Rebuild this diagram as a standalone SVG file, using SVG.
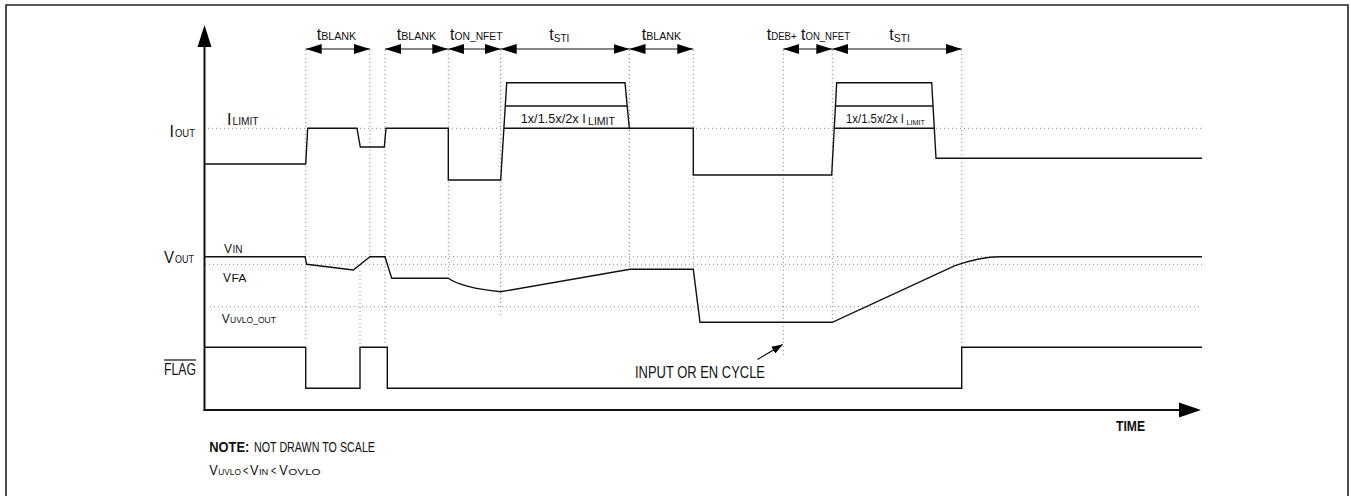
<svg xmlns="http://www.w3.org/2000/svg" width="1351" height="496" viewBox="0 0 1351 496">
<style>
text{font-family:"Liberation Sans",Arial,sans-serif;fill:#111}
.b{font-size:16px}
.s{font-size:11.5px}
.m{font-size:13px}
.xs{font-size:9px}
.dot{stroke:#888;stroke-width:1;stroke-dasharray:1 3;fill:none}
.wave{stroke:#111;stroke-width:1.4;fill:none;stroke-linejoin:miter}
.dim{stroke:#111;stroke-width:1.2;fill:none;marker-start:url(#ah);marker-end:url(#ah)}
</style>
<defs>
<marker id="ah" markerUnits="userSpaceOnUse" viewBox="0 0 16 10" refX="16" refY="5" markerWidth="16" markerHeight="10" orient="auto-start-reverse">
<path d="M0,0 L16,5 L0,10 Z" fill="#000"/>
</marker>
<marker id="sa" markerUnits="userSpaceOnUse" viewBox="0 0 11 8" refX="11" refY="4" markerWidth="11" markerHeight="8" orient="auto">
<path d="M0,0 L11,4 L0,8 Z" fill="#000"/>
</marker>
</defs>
<g id="frame">
<path d="M6,497 V5 H1348 V497" fill="none" stroke="#222" stroke-width="1.6"/>
</g>
<g id="grid">
<path class="dot" d="M208,128.3 H1202 M205,256.7 H1202 M205,264.3 H1202 M210,306.7 H1202"/>
<path class="dot" d="M305.7,50 V342 M360,271 V346 M370,50 V256 M385,50 V346 M448.3,50 V278 M500.7,50 V318 M629.5,50 V269 M693.3,50 V269 M783.3,50 V358 M832.3,50 V322 M961.7,50 V347"/>
</g>
<g id="axes">
<path d="M204.5,411 V46" stroke="#111" stroke-width="2" fill="none"/>
<path d="M197.5,47 L204.5,25 L211.5,47 Z" fill="#000"/>
<path d="M203.5,410 H1180" stroke="#111" stroke-width="2" fill="none"/>
<path d="M1179,402.5 L1201,410 L1179,417.5 Z" fill="#000"/>
</g>
<g id="connectors">
<path class="dim" d="M305.7,49 H370"/>
<path class="dim" d="M385,49 H448.3"/>
<path class="dim" d="M448.3,49 H500.7"/>
<path class="dim" d="M500.7,49 H629.5"/>
<path class="dim" d="M629.5,49 H693.3"/>
<path class="dim" d="M783.3,49 H832.3"/>
<path class="dim" d="M832.3,49 H961.7"/>
<path d="M757.5,359.5 L782.7,344.5" stroke="#111" stroke-width="1.2" fill="none" marker-end="url(#sa)"/>
</g>
<g id="iout-wave">
<path class="wave" d="M204.5,164 H305.7 L307.7,128.3 H357 L360.3,147 H384.3 L386,128.3 H448.3 V180 H500.7 L506.7,82.7 H625 L629.3,128.3 H693.3 V175 H831.7 L836.7,82.7 H931.7 L936,158.3 H1202"/>
<path class="wave" d="M505.3,106 H627.2 M503.9,128.3 H629.3 M835.4,106 H933 M834.2,128.3 H934.3"/>
</g>
<g id="vout-wave">
<path class="wave" d="M204.5,256.7 H305 L306.7,264.3 L353.3,270 L370,256.7 H385 L391.7,278.3 H448.3 Q462,288 500.7,291.7 L630,269.3 H693.3 L700,322.3 H832.3 L955,265.7 Q980,256.7 1000,256.7 H1202"/>
</g>
<g id="flag-wave">
<path class="wave" d="M204.5,347.3 H305.7 V388.3 H360 V347.3 H387.3 V388.3 H961.7 V347.3 H1202"/>
</g>
<g id="timing-labels">
<text class="b" x="316.7" y="40">t</text><text class="s" x="321.2" y="40" textLength="35" lengthAdjust="spacingAndGlyphs">BLANK</text>
<text class="b" x="396.7" y="40">t</text><text class="s" x="401.2" y="40" textLength="35" lengthAdjust="spacingAndGlyphs">BLANK</text>
<text class="b" x="450" y="40">t</text><text class="s" x="454.5" y="40" textLength="48" lengthAdjust="spacingAndGlyphs">ON_NFET</text>
<text class="b" x="549.3" y="40">t</text><text class="s" x="553.8" y="42" textLength="15.5" lengthAdjust="spacingAndGlyphs">STI</text>
<text class="b" x="641.7" y="40">t</text><text class="s" x="646.2" y="40" textLength="35" lengthAdjust="spacingAndGlyphs">BLANK</text>
<text class="b" x="766.7" y="40">t</text><text class="s" x="771.2" y="40" textLength="25.5" lengthAdjust="spacingAndGlyphs">DEB+</text>
<text class="b" x="801" y="40">t</text><text class="s" x="805.5" y="40" textLength="44.5" lengthAdjust="spacingAndGlyphs">ON_NFET</text>
<text class="b" x="889.3" y="40">t</text><text class="s" x="893.8" y="42" textLength="16" lengthAdjust="spacingAndGlyphs">STI</text>
</g>
<g id="signal-labels">
<text class="b" x="169.5" y="137">I</text><text class="s" x="175" y="137" textLength="20" lengthAdjust="spacingAndGlyphs">OUT</text>
<text class="b" x="227" y="125">I</text><text class="s" x="232.5" y="125" textLength="26" lengthAdjust="spacingAndGlyphs">LIMIT</text>
<text x="520.7" y="123" textLength="65" lengthAdjust="spacingAndGlyphs" style="font-size:13px">1x/1.5x/2x I</text>
<text class="s" x="588" y="125" textLength="27" lengthAdjust="spacingAndGlyphs">LIMIT</text>
<text x="846" y="123.3" textLength="58" lengthAdjust="spacingAndGlyphs" style="font-size:12px">1x/1.5x/2x I</text>
<text x="906.5" y="125" textLength="18.5" lengthAdjust="spacingAndGlyphs" style="font-size:8px">LIMIT</text>
<text class="b" x="164" y="263" textLength="10" lengthAdjust="spacingAndGlyphs">V</text><text class="s" x="175" y="263" textLength="19" lengthAdjust="spacingAndGlyphs">OUT</text>
<text class="m" x="224" y="253.3" textLength="8" lengthAdjust="spacingAndGlyphs">V</text><text style="font-size:10px" x="232.5" y="253.3" textLength="10" lengthAdjust="spacingAndGlyphs">IN</text>
<text class="m" x="223" y="281.7" textLength="8" lengthAdjust="spacingAndGlyphs">V</text><text class="s" x="231.5" y="281.7" textLength="15" lengthAdjust="spacingAndGlyphs">FA</text>
<text class="m" x="221.7" y="323.3" textLength="8" lengthAdjust="spacingAndGlyphs">V</text><text class="xs" x="230" y="323.3" textLength="46" lengthAdjust="spacingAndGlyphs">UVLO_OUT</text>
<text x="164" y="375" textLength="32" lengthAdjust="spacingAndGlyphs" style="font-size:16px">FLAG</text>
<path d="M164,360 H196" stroke="#111" stroke-width="1.2"/>
<text x="635" y="378.3" textLength="130" lengthAdjust="spacingAndGlyphs" style="font-size:16px">INPUT OR EN CYCLE</text>
<text x="1116" y="430.7" textLength="29" lengthAdjust="spacingAndGlyphs" style="font-size:14px;font-weight:bold">TIME</text>
</g>
<g id="notes">
<text x="209.3" y="451.7" textLength="40" lengthAdjust="spacingAndGlyphs" style="font-size:15px;font-weight:bold">NOTE:</text>
<text x="254" y="451.7" textLength="121" lengthAdjust="spacingAndGlyphs" style="font-size:15px">NOT DRAWN TO SCALE</text>
<text x="209.3" y="475" textLength="8.5" lengthAdjust="spacingAndGlyphs" style="font-size:14px">V</text>
<text x="218.3" y="475" textLength="22.7" lengthAdjust="spacingAndGlyphs" style="font-size:9.5px">UVLO</text>
<text x="243" y="475" textLength="5.3" lengthAdjust="spacingAndGlyphs" style="font-size:13px">&lt;</text>
<text x="250" y="475" textLength="8.5" lengthAdjust="spacingAndGlyphs" style="font-size:14px">V</text>
<text x="259" y="475" textLength="9.3" lengthAdjust="spacingAndGlyphs" style="font-size:9.5px">IN</text>
<text x="271" y="475" textLength="5.3" lengthAdjust="spacingAndGlyphs" style="font-size:13px">&lt;</text>
<text x="279.3" y="475" textLength="8.5" lengthAdjust="spacingAndGlyphs" style="font-size:14px">V</text>
<text x="288.3" y="475" textLength="32.4" lengthAdjust="spacingAndGlyphs" style="font-size:9.5px">OVLO</text>
</g>
</svg>
